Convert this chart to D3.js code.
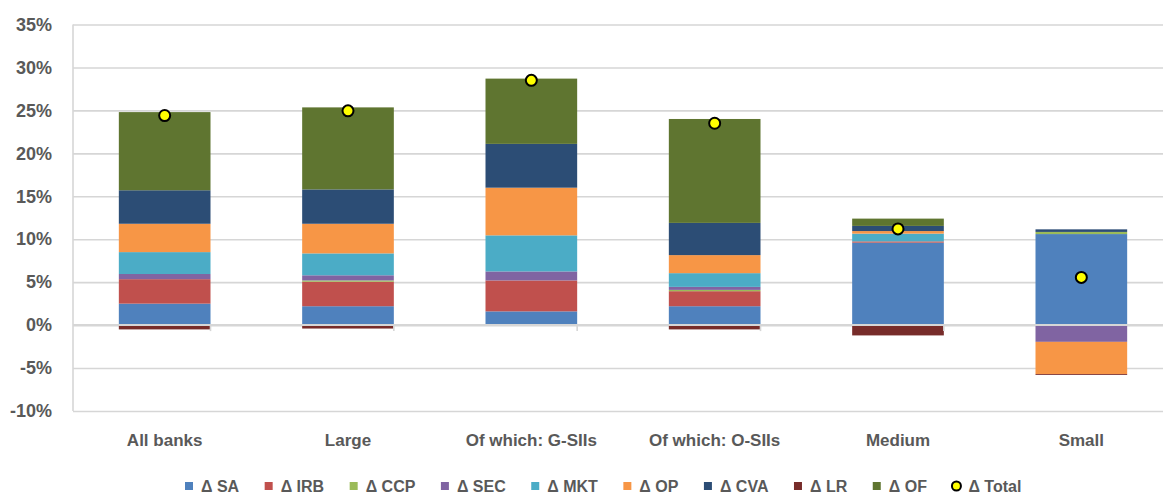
<!DOCTYPE html>
<html>
<head>
<meta charset="utf-8">
<script src="https://cdn.jsdelivr.net/npm/d3@7"></script>
<style>
  body { margin: 0; background: #fff; }
  .canvas { width: 1163px; height: 496px; }
  text { font-family: "Liberation Sans", Arial, sans-serif; font-weight: bold; fill: #595959; }
  .grid line { stroke: #d6d6d6; stroke-width: 1.6; }
  .grid path { display: none; }
</style>
</head>
<body>
<div class="canvas" id="canvas"></div>
<script>
//categories along the x axis
var categories = ['All banks', 'Large', 'Of which: G-SIIs', 'Of which: O-SIIs', 'Medium', 'Small'];

//series values, in %
var dSA  = [2.5, 2.2, 1.6, 2.2, 9.6, 10.6];
var dIRB = [2.85, 2.85, 3.6, 1.75, 0.15, 0];
var dCCP = [0, 0.15, 0, 0.15, 0, 0.25];
var dSEC = [0.6, 0.6, 1.05, 0.35, 0, -1.95];
var dMKT = [2.55, 2.55, 4.2, 1.6, 0.9, 0];
var dOP  = [3.3, 3.45, 5.55, 2.1, 0.3, -3.75];
var dCVA = [3.9, 4.0, 5.1, 3.75, 0.6, 0.3];
var dLR  = [-0.5, -0.4, 0, -0.5, -1.2, -0.1];
var dOF  = [9.1, 9.55, 7.6, 12.1, 0.85, 0];
var dTotal = [24.4, 24.95, 28.5, 23.5, 11.2, 5.55];

//series names as shown in the legend
var seriesNames = ['Δ SA', 'Δ IRB', 'Δ CCP', 'Δ SEC', 'Δ MKT', 'Δ OP', 'Δ CVA', 'Δ LR', 'Δ OF'];
var totalName = 'Δ Total';

//y axis tick values
var yTicks = [-10, -5, 0, 5, 10, 15, 20, 25, 30, 35];

var seriesValues = [dSA, dIRB, dCCP, dSEC, dMKT, dOP, dCVA, dLR, dOF];
var colors = ['#4f81bd', '#c0504d', '#9bbb59', '#8064a2', '#4bacc6', '#f79646', '#2c4d75', '#772c2a', '#5f7530'];

//size of the plot
var margin = {t:24.5, r:-10, b:85, l:73},
    width = 1100,
    height = 496 - margin.t - margin.b;

var svg = d3.select('.canvas')
    .append('svg')
    .attr('width', 1163)
    .attr('height', 496);

var canvas = svg.append('g')
    .attr('transform', 'translate(' + margin.l + ',' + margin.t + ')');

//scales
var x = d3.scaleBand()
    .domain(categories)
    .range([0, width])
    .paddingInner(0.5)
    .paddingOuter(0.25);

var y = d3.scaleLinear()
    .domain([-10, 35])
    .range([height, 0]);

//build a table the stack layout can use
var table = categories.map(function(c, i){
    var row = {cat: c};
    seriesNames.forEach(function(s, j){ row[s] = seriesValues[j][i]; });
    return row;
});

var stacked = d3.stack()
    .keys(seriesNames)
    .offset(d3.stackOffsetDiverging)(table);

//horizontal grid lines
canvas.append('g')
    .attr('class', 'grid')
    .call(d3.axisLeft(y).tickValues(yTicks).tickSize(-width).tickFormat(''));

//left border of the plot area
canvas.append('line')
    .attr('x1', 0).attr('x2', 0)
    .attr('y1', 0).attr('y2', height)
    .style('stroke', '#d6d6d6')
    .style('stroke-width', 1.6);

//y labels
var yAxis = canvas.append('g')
    .call(d3.axisLeft(y).tickValues(yTicks).tickSize(0).tickPadding(21)
        .tickFormat(function(d){ return d + '%'; }));
yAxis.select('.domain').remove();
yAxis.selectAll('text').style('font-size', '18px');

//stacked bars
stacked.forEach(function(layer, j){
    canvas.append('g')
        .selectAll('rect')
        .data(layer)
        .enter()
        .append('rect')
        .attr('x', function(d){ return x(d.data.cat); })
        .attr('width', x.bandwidth())
        .attr('y', function(d){ return y(Math.max(d[0], d[1])); })
        .attr('height', function(d){ return Math.abs(y(d[0]) - y(d[1])); })
        .style('fill', colors[j]);
});

//zero line and category ticks
canvas.append('line')
    .attr('x1', 0).attr('x2', width)
    .attr('y1', y(0)).attr('y2', y(0))
    .style('stroke', '#d6d6d6')
    .style('stroke-width', 2);

for(var i = 1; i < categories.length; i++){
    var tx = x(categories[i]) - x.step() * x.paddingInner() / 2 - x.bandwidth() / 2;
    canvas.append('line')
        .attr('x1', tx).attr('x2', tx)
        .attr('y1', y(0)).attr('y2', y(0) + 6)
        .style('stroke', '#d6d6d6')
        .style('stroke-width', 1.6);
}

//total markers
canvas.selectAll('.total')
    .data(dTotal)
    .enter()
    .append('circle')
    .attr('class', 'total')
    .attr('cx', function(d, i){ return x(categories[i]) + x.bandwidth() / 2; })
    .attr('cy', function(d){ return y(d); })
    .attr('r', 5.5)
    .style('fill', '#ffff00')
    .style('stroke', '#000')
    .style('stroke-width', 2);

//category labels
canvas.selectAll('.cat')
    .data(categories)
    .enter()
    .append('text')
    .attr('class', 'cat')
    .attr('x', function(d){ return x(d) + x.bandwidth() / 2; })
    .attr('y', height + 35)
    .attr('text-anchor', 'middle')
    .style('font-size', '17px')
    .text(function(d){ return d; });

//legend, laid out from the text widths
var legend = svg.append('g').attr('transform', 'translate(185,486)');
var lx = 0;
var items = seriesNames.concat([totalName]);
items.forEach(function(name, j){
    var g = legend.append('g').attr('transform', 'translate(' + lx + ',0)');
    if(j < seriesNames.length){
        g.append('rect')
            .attr('x', 0).attr('y', -4)
            .attr('width', 8).attr('height', 8)
            .style('fill', colors[j]);
    } else {
        g.append('circle')
            .attr('cx', 4).attr('cy', 0).attr('r', 4.5)
            .style('fill', '#ffff00')
            .style('stroke', '#000')
            .style('stroke-width', 2);
    }
    var t = g.append('text')
        .attr('x', 16)
        .attr('y', 6)
        .style('font-size', '16px')
        .text(name);
    lx += 16 + t.node().getComputedTextLength() + 25.5;
});
</script>
</body>
</html>
